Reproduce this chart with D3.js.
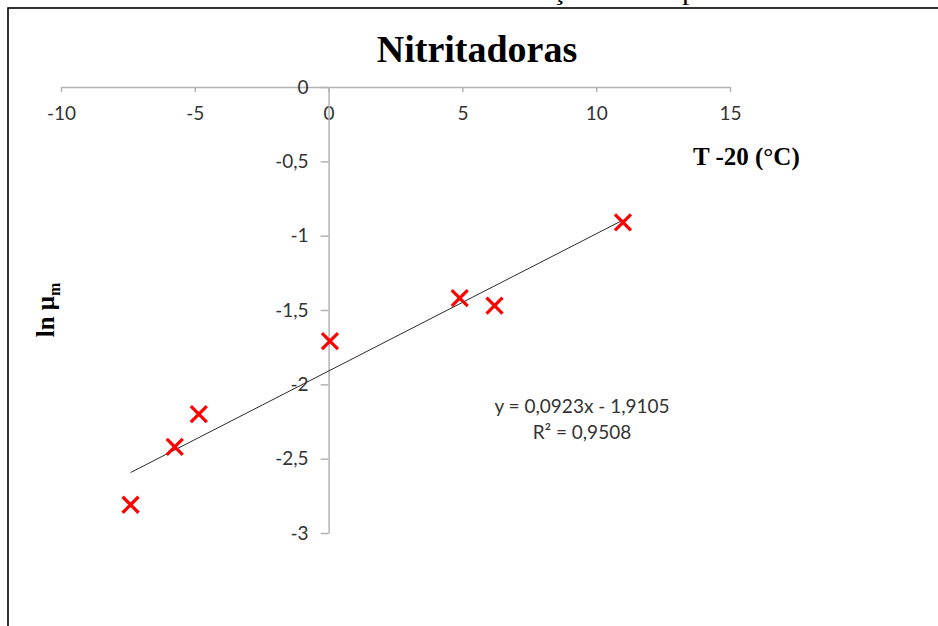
<!DOCTYPE html>
<html>
<head>
<meta charset="utf-8">
<script src="https://cdn.jsdelivr.net/npm/d3@7"></script>
<style>
  html, body { margin: 0; padding: 0; background: #fff; }
  svg { display: block; }
</style>
</head>
<body>
<svg id="chart" width="938" height="626"></svg>
<script>
// ---- data ----
const tempX = [-7.4, -5.75, -4.85, 0.05, 4.9, 6.2, 11.0];        // T - 20 (°C)
const lnMu  = [-2.81, -2.42, -2.20, -1.71, -1.42, -1.47, -0.91]; // ln μm
const xTicks = [-10, -5, 0, 5, 10, 15];
const yTicks = [0, -0.5, -1, -1.5, -2, -2.5, -3];
const trendSlope = 0.0923;
const trendIntercept = -1.9105;
const equationLines = ["y = 0,0923x - 1,9105", "R² = 0,9508"];
const chartTitle = "Nitritadoras";
const captionText = "Nitritadoras em função da temperatura";

// ---- drawing ----
const svg = d3.select("#chart");
const x = d3.scaleLinear().domain([-10, 15]).range([61, 730]);
const y = d3.scaleLinear().domain([-3, 0]).range([533, 87]);
const fmt = d => String(d).replace(".", ",");

// caption above the frame, clipped by the page top (as in the reference)
svg.append("text")
  .attr("x", 318).attr("y", 0)
  .attr("textLength", 462).attr("lengthAdjust", "spacingAndGlyphs")
  .style("font-family", "'Liberation Serif', serif")
  .style("font-size", "22px")
  .attr("fill", "#000")
  .text(captionText);

// frame
svg.append("rect")
  .attr("x", 8).attr("y", 8).attr("width", 1000).attr("height", 1000)
  .attr("fill", "none").attr("stroke", "#000").attr("stroke-width", 1.6);

// title
svg.append("text")
  .attr("x", 477).attr("y", 62)
  .attr("text-anchor", "middle")
  .style("font-family", "'Liberation Serif', serif")
  .style("font-weight", "bold")
  .style("font-size", "38px")
  .text(chartTitle);

const axisColor = "#b3b3b3";
const labelFont = "Lato, 'Liberation Sans', sans-serif";
const labelColor = "#333";

// x axis (at y = 0)
const gx = svg.append("g")
  .attr("transform", `translate(0,${y(0)})`)
  .call(d3.axisBottom(x).tickValues(xTicks).tickSize(5).tickSizeOuter(0).tickPadding(15).tickFormat(fmt));
gx.select(".domain").attr("stroke", axisColor).attr("stroke-width", 1.5);
gx.selectAll(".tick line").attr("stroke", axisColor).attr("stroke-width", 1.5);
gx.selectAll(".tick text")
  .attr("fill", labelColor)
  .style("font-family", labelFont).style("font-size", "19px");

// y axis (at x = 0)
const gy = svg.append("g")
  .attr("transform", `translate(${x(0)},0)`)
  .call(d3.axisLeft(y).tickValues(yTicks).tickSize(8).tickSizeOuter(0).tickPadding(12).tickFormat(fmt));
gy.select(".domain").attr("stroke", axisColor).attr("stroke-width", 1.5);
gy.selectAll(".tick line").attr("stroke", axisColor).attr("stroke-width", 1.5);
gy.selectAll(".tick text")
  .attr("fill", labelColor)
  .style("font-family", labelFont).style("font-size", "19px");

// axis titles
svg.append("text")
  .attr("x", 693).attr("y", 165)
  .style("font-family", "'Liberation Serif', serif")
  .style("font-weight", "bold").style("font-size", "25px")
  .text("T -20 (°C)");

const yt = svg.append("text")
  .attr("transform", "translate(54,310) rotate(-90)")
  .attr("text-anchor", "middle")
  .style("font-family", "'Liberation Serif', serif")
  .style("font-weight", "bold").style("font-size", "25px");
yt.append("tspan").text("ln μ");
yt.append("tspan").attr("dy", 6).style("font-size", "16px").text("m");

// trendline
const xMin = d3.min(tempX), xMax = d3.max(tempX);
svg.append("line")
  .attr("x1", x(xMin)).attr("y1", y(trendSlope * xMin + trendIntercept))
  .attr("x2", x(xMax)).attr("y2", y(trendSlope * xMax + trendIntercept))
  .attr("stroke", "#2b2b2b").attr("stroke-width", 1);

// markers
const pts = tempX.map((v, i) => ({ x: v, y: lnMu[i] }));
const m = 8;
const mk = svg.append("g").attr("stroke", "#ff0000").attr("stroke-width", 3.2).attr("stroke-linecap", "butt");
pts.forEach(p => {
  const cx = x(p.x), cy = y(p.y);
  mk.append("path").attr("d", `M${cx - m},${cy - m}L${cx + m},${cy + m}M${cx - m},${cy + m}L${cx + m},${cy - m}`);
});

// equation
svg.append("g").selectAll("text").data(equationLines).join("text")
  .attr("x", 582).attr("y", (d, i) => 413 + i * 26)
  .attr("text-anchor", "middle")
  .attr("fill", labelColor)
  .style("font-family", labelFont).style("font-size", "19px")
  .text(d => d);
</script>
</body>
</html>
